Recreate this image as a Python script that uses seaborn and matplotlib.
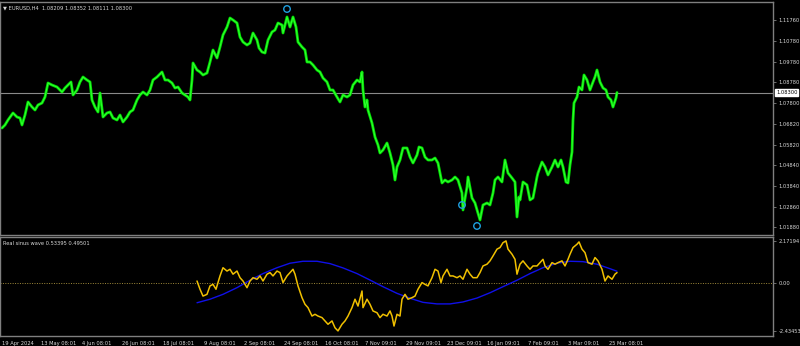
import matplotlib
matplotlib.use("Agg")
import matplotlib.pyplot as plt
import seaborn as sns
import pandas as pd

# ---------------- data ----------------
price_x = [2, 5, 8, 13, 17, 20, 22, 25, 28, 32, 35, 38, 42, 45, 48, 52, 57, 62, 65, 68,
           71, 73, 77, 80, 83, 87, 90, 92, 95, 98, 100, 103, 107, 110, 113, 117, 120, 123, 127, 130,
           133, 137, 140, 143, 147, 150, 153, 157, 162, 165, 168, 172, 175, 178, 182, 185, 188, 190, 192, 193,
           197, 200, 203, 207, 210, 213, 217, 220, 223, 227, 230, 233, 237, 240, 243, 247, 250, 253, 257, 259,
           262, 265, 268, 272, 275, 278, 282, 283, 287, 290, 293, 296, 298, 302, 305, 307, 310, 313, 317, 320,
           323, 327, 330, 333, 337, 340, 343, 347, 350, 353, 357, 360, 362, 363, 365, 367, 368, 372, 375, 378,
           380, 383, 387, 390, 393, 395, 397, 400, 403, 407, 410, 413, 417, 419, 422, 425, 428, 432, 435, 438,
           442, 445, 448, 452, 455, 458, 462, 463, 467, 468, 472, 475, 478, 480, 483, 487, 490, 493, 495, 498,
           502, 505, 508, 512, 515, 517, 519, 520, 523, 527, 530, 533, 537, 538, 542, 545, 548, 552, 555, 558,
           561, 563, 566, 568, 570, 572, 573, 574, 577, 579, 582, 584, 587, 590, 593, 595, 597, 600, 603, 606,
           608, 611, 613, 616, 617]
price_y = [1.06608, 1.06752, 1.06990, 1.07324, 1.07133, 1.07085, 1.06752, 1.07229, 1.07849, 1.07610,
           1.07467, 1.07706, 1.07801, 1.08087, 1.08755, 1.08660, 1.08564, 1.08326, 1.08516, 1.08660,
           1.08803, 1.08183, 1.08421, 1.08803, 1.09041, 1.08898, 1.08803, 1.07944, 1.07610, 1.07372,
           1.08278, 1.07133, 1.07324, 1.07372, 1.07085, 1.06990, 1.07229, 1.06895, 1.07133, 1.07372,
           1.07467, 1.07944, 1.08183, 1.08326, 1.08183, 1.08421, 1.08898, 1.09041, 1.09280, 1.08898,
           1.08898, 1.08755, 1.08516, 1.08564, 1.08278, 1.08183, 1.08087, 1.07944, 1.08898, 1.09709,
           1.09375, 1.09280, 1.09137, 1.09232, 1.09757, 1.10329, 1.09947, 1.10472, 1.11045, 1.11426,
           1.11855, 1.11760, 1.11617, 1.10949, 1.10711, 1.10568, 1.10663, 1.11140, 1.10806, 1.10424,
           1.10234, 1.10186, 1.10806, 1.11188, 1.11283, 1.11617, 1.11522, 1.11140, 1.11903, 1.11426,
           1.11903, 1.11426, 1.10711, 1.10472, 1.10329, 1.09757, 1.09757, 1.09614, 1.09375, 1.09280,
           1.08993, 1.08803, 1.08421, 1.08421, 1.08087, 1.07849, 1.08183, 1.08087, 1.08183, 1.08660,
           1.08898, 1.08803, 1.09280, 1.08421, 1.07610, 1.07944, 1.07467, 1.06847, 1.06179, 1.05798,
           1.05416, 1.05559, 1.05893, 1.05416, 1.04844, 1.04128, 1.04748, 1.05082, 1.05654, 1.05654,
           1.05225, 1.04939, 1.05321, 1.05702, 1.05654, 1.05225, 1.05082, 1.05082, 1.05177, 1.04939,
           1.03985, 1.04128, 1.04033, 1.04128, 1.04271, 1.04128, 1.03508, 1.02697, 1.03794, 1.04271,
           1.03269, 1.03031, 1.02554, 1.02220, 1.02936, 1.03031, 1.02936, 1.03508, 1.04128, 1.04271,
           1.04033, 1.05082, 1.04462, 1.04223, 1.04033, 1.02363, 1.03317, 1.03174, 1.04033, 1.03890,
           1.03174, 1.03269, 1.04271, 1.04462, 1.04987, 1.04748, 1.04367, 1.04748, 1.05082, 1.04748,
           1.05082, 1.04748, 1.04033, 1.03985, 1.04844, 1.05464, 1.06990, 1.07801, 1.08087, 1.08564,
           1.08421, 1.09137, 1.08898, 1.08421, 1.08803, 1.09041, 1.09375, 1.08803, 1.08516, 1.08421,
           1.08087, 1.07944, 1.07610, 1.08039, 1.08300]

fractal_x = [287, 462, 477]
fractal_y = [1.12285, 1.02936, 1.01934]

osc_x = [197, 200, 203, 207, 210, 213, 216, 220, 223, 227, 230, 233, 237, 240, 243, 247, 250, 253, 257, 260,
         263, 267, 270, 273, 277, 280, 283, 287, 290, 293, 295, 298, 302, 305, 308, 312, 315, 318, 322, 325,
         328, 332, 335, 338, 342, 345, 348, 352, 355, 358, 362, 363, 367, 370, 373, 377, 380, 383, 387, 390,
         392, 394, 397, 400, 402, 405, 408, 412, 415, 418, 422, 425, 428, 432, 435, 438, 441, 443, 447, 450,
         453, 457, 460, 463, 467, 470, 473, 477, 480, 483, 487, 490, 493, 497, 500, 503, 506, 508, 512, 515,
         517, 520, 523, 527, 530, 533, 537, 540, 543, 545, 548, 552, 555, 558, 562, 565, 568, 570, 573, 577,
         579, 582, 585, 588, 592, 595, 598, 602, 605, 608, 612, 615, 617]
osc_val = [0.12, -0.30, -0.65, -0.56, -0.13, -0.05, -0.30, 0.38, 0.80, 0.63, 0.72, 0.47, 0.63, 0.29, 0.12,
           -0.22, 0.12, 0.29, 0.21, 0.38, 0.12, 0.47, 0.55, 0.38, 0.63, 0.55, 0.04, 0.38, 0.55, 0.72,
           0.47, -0.13, -0.73, -1.07, -1.24, -1.67, -1.58, -1.67, -1.75, -1.92, -2.09, -1.92, -2.27, -2.43,
           -2.09, -1.92, -1.67, -1.24, -0.81, -1.16, -0.39, -1.24, -0.81, -1.07, -1.41, -1.50, -1.75, -1.58,
           -1.67, -1.41, -1.67, -2.18, -1.58, -1.67, -0.81, -0.56, -0.81, -0.73, -0.65, -0.30, 0.04, -0.05,
           -0.13, 0.29, 0.72, 0.63, 0.04, 0.38, 0.72, 0.38, 0.38, 0.29, 0.38, 0.21, 0.72, 0.47, 0.29, 0.29,
           0.55, 0.89, 0.98, 1.15, 1.40, 1.75, 1.83, 2.08, 2.17, 1.75, 1.49, 1.23, 0.47, 0.98, 1.15, 0.89,
           0.72, 0.89, 0.89, 1.06, 1.23, 0.89, 0.72, 1.06, 0.98, 1.06, 1.15, 0.89, 1.23, 1.49, 1.83, 2.00,
           2.12, 1.75, 1.57, 1.06, 0.98, 1.32, 1.15, 0.72, 0.12, 0.38, 0.21, 0.47, 0.55]

sine_x = [197, 210, 223, 237, 250, 263, 277, 290, 303, 317, 330, 343, 357, 370, 383, 397, 410, 423, 437,
          450, 463, 477, 490, 503, 517, 530, 543, 557, 570, 583, 597, 610, 617]
sine_val = [-0.99, -0.81, -0.56, -0.22, 0.16, 0.50, 0.80, 1.03, 1.13, 1.13, 1.01, 0.79, 0.50, 0.17, -0.17,
            -0.51, -0.76, -0.97, -1.05, -1.05, -0.95, -0.75, -0.48, -0.17, 0.16, 0.50, 0.80, 1.03, 1.13,
            1.11, 0.98, 0.75, 0.62]

price_ticks = [1.11760, 1.10780, 1.09780, 1.08780, 1.07800, 1.06820, 1.05820, 1.04840, 1.03840, 1.02860, 1.01880]
price_tick_labels = ["1.11760", "1.10780", "1.09780", "1.08780", "1.07800", "1.06820", "1.05820",
                     "1.04840", "1.03840", "1.02860", "1.01880"]
osc_ticks = [2.17194, 0.0, -2.43453]
osc_tick_labels = ["2.17194", "0.00", "-2.43453"]
time_ticks = [2, 41, 82, 122, 163, 204, 244, 284, 325, 365, 406, 447, 487, 528, 568, 609]
time_labels = ["19 Apr 2024", "13 May 08:01", "4 Jun 08:01", "26 Jun 08:01", "18 Jul 08:01", "9 Aug 08:01",
               "2 Sep 08:01", "24 Sep 08:01", "16 Oct 08:01", "7 Nov 09:01", "29 Nov 09:01", "23 Dec 09:01",
               "16 Jan 09:01", "7 Feb 09:01", "3 Mar 09:01", "25 Mar 08:01"]
last_price = 1.08300
title_text = "\u25BC EURUSD,H4  1.08209 1.08352 1.08111 1.08300"
osc_title = "Real sinus wave 0.53395 0.49501"

# ---------------- styling ----------------
sns.set_style("dark")
plt.rcParams['font.family'] = ['DejaVu Sans']
BG = "#000000"
FRAME = "#7f7f7f"
TXT = "#d8d8d8"
FS = 3.7

df_price = pd.DataFrame({"x": price_x, "y": price_y})
df_osc = pd.DataFrame({"x": osc_x, "y": osc_val})
df_sine = pd.DataFrame({"x": sine_x, "y": sine_val})
df_frac = pd.DataFrame({"x": fractal_x, "y": fractal_y})

fig = plt.figure(figsize=(8.0, 3.46), dpi=100, facecolor=BG)
ax = fig.add_axes([0.0, 111 / 346, 773 / 800, 233 / 346], facecolor=BG)
ax2 = fig.add_axes([0.0, 10 / 346, 773 / 800, 99 / 346], facecolor=BG)

XMIN, XMAX = 0, 773
for a in (ax, ax2):
    a.set_xlim(XMIN, XMAX)
    a.grid(False)
    for s in a.spines.values():
        s.set_color(FRAME)
        s.set_linewidth(1.0)
    a.yaxis.tick_right()
    a.tick_params(axis="y", direction="out", length=2.5, width=0.6, color=FRAME,
                  labelcolor=TXT, labelsize=FS, pad=1.5)
    a.set_xlabel("")
    a.set_ylabel("")

# main price panel
ax.set_ylim(1.01504, 1.12619)
sns.lineplot(data=df_price, x="x", y="y", ax=ax, color="#00e000", linewidth=2.0, estimator=None, sort=False)
sns.lineplot(data=df_price, x="x", y="y", ax=ax, color="#33ff33", linewidth=0.7, estimator=None, sort=False)
ax.axhline(last_price, color="#8a8a8a", linewidth=0.8, zorder=1)
sns.scatterplot(data=df_frac, x="x", y="y", ax=ax, marker="o", s=22, facecolor="none",
                edgecolor="#1fa0e0", linewidth=1.0, zorder=5)
ax.set_yticks(price_ticks)
ax.set_yticklabels(price_tick_labels)
ax.set_xticks([])
ax.set_xlabel("")
ax.set_ylabel("")
ax.annotate(f"{last_price:.5f}", xy=(1.0, last_price), xycoords=("axes fraction", "data"),
            xytext=(2.2, 0), textcoords="offset points", ha="left", va="center",
            fontsize=FS, color="#000000",
            bbox=dict(boxstyle="square,pad=0.15", facecolor="#ffffff", edgecolor="#ffffff"))
ax.text(0.004, 0.985, title_text, transform=ax.transAxes, ha="left", va="top",
        fontsize=FS, color=TXT)

# oscillator panel
ax2.set_ylim(-2.69, 2.37)
ax2.axhline(0.0, color="#a08a3a", linewidth=0.7, linestyle=(0, (1, 1.5)), zorder=1)
sns.lineplot(data=df_sine, x="x", y="y", ax=ax2, color="#1010e8", linewidth=1.0, estimator=None, sort=False)
sns.lineplot(data=df_osc, x="x", y="y", ax=ax2, color="#f0c000", linewidth=1.1, estimator=None, sort=False)
ax2.set_yticks(osc_ticks)
ax2.set_yticklabels(osc_tick_labels)
ax2.set_xticks(time_ticks)
ax2.set_xticklabels(time_labels, ha="left")
ax2.tick_params(axis="x", direction="out", length=2.5, width=0.6, color=FRAME,
                labelcolor=TXT, labelsize=FS, pad=0.8)
ax2.set_xlabel("")
ax2.set_ylabel("")
ax2.text(0.004, 0.96, osc_title, transform=ax2.transAxes, ha="left", va="top",
         fontsize=FS, color=TXT)

fig.savefig("out.png", dpi=100, facecolor=BG)
